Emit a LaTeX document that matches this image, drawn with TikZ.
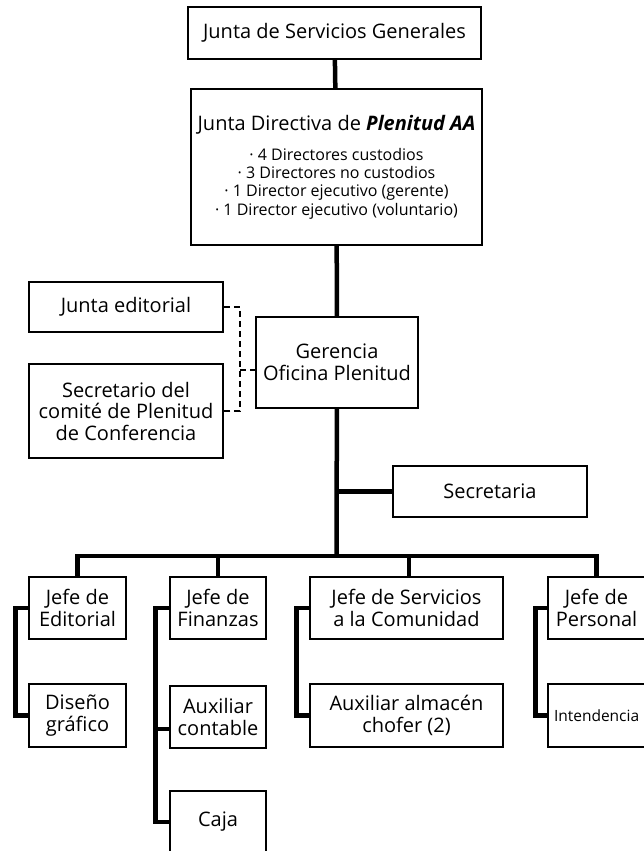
\documentclass[tikz,border=0pt]{standalone}
\usepackage{fontspec}
\setmainfont{Open Sans}
\usepackage{tikz}
\newcommand\jdlist{\fontsize{16}{18.3}\selectfont}

\begin{document}
\begin{tikzpicture}[x=1pt,y=-1pt,
	box/.style={draw, line width=1.5pt, align=center, inner sep=0pt, font=\fontsize{20}{21.5}\selectfont},
	link/.style={line width=4.5pt},
	dashlink/.style={line width=1.8pt, dash pattern=on 6pt off 4pt}]
	\useasboundingbox (0,0) rectangle (643,851);
	% top of the chart
	\node[box, minimum width=293pt, minimum height=52pt] (jsg) at (334.5,33) {Junta de Servicios Generales};
	\node[box, minimum width=291pt, minimum height=156pt, font=\fontsize{20}{18.3}\selectfont] (jd) at (336.5,167)
		{Junta Directiva de \textbf{\textit{Plenitud AA}}\\[12pt]
		 \jdlist · 4 Directores custodios\\
		 \jdlist · 3 Directores no custodios\\
		 \jdlist · 1 Director ejecutivo (gerente)\\
		 \jdlist · 1 Director ejecutivo (voluntario)};
	\node[box, minimum width=194pt, minimum height=50pt] (jed) at (126,307) {Junta editorial};
	\node[box, minimum width=194pt, minimum height=94pt] (sec) at (126,411) {Secretario del\\ comit\'e de Plenitud\\ de Conferencia};
	\node[box, minimum width=162pt, minimum height=91pt] (ger) at (337,362.5) {Gerencia\\ Oficina Plenitud};
	\node[box, minimum width=194pt, minimum height=51pt] (secr) at (490,491.5) {Secretaria};
	% jefes
	\node[box, minimum width=97pt, minimum height=62pt] (edit) at (77.5,608) {Jefe de\\ Editorial};
	\node[box, minimum width=97pt, minimum height=63pt] (dis) at (77.5,715.5) {Dise\~no\\ gr\'afico};
	\node[box, minimum width=96pt, minimum height=62pt] (fin) at (218,608) {Jefe de\\ Finanzas};
	\node[box, minimum width=96pt, minimum height=62pt] (aux) at (218,717) {Auxiliar\\ contable};
	\node[box, minimum width=96pt, minimum height=62pt] (caja) at (218,822) {Caja};
	\node[box, minimum width=193pt, minimum height=62pt] (serv) at (406.5,608) {Jefe de Servicios\\ a la Comunidad};
	\node[box, minimum width=193pt, minimum height=63pt] (alm) at (406.5,715.5) {Auxiliar almac\'en\\ chofer (2)};
	\node[box, minimum width=97pt, minimum height=62pt] (pers) at (596.5,608) {Jefe de\\ Personal};
	\node[box, minimum width=97pt, minimum height=63pt, font=\fontsize{15.5}{18}\selectfont,
		text width=85pt, align=left] (intd) at (596.5,715.5) {Intendencia};
	\coordinate (bus) at (336.5,556);
	\coordinate (brk) at (240,370);
	% lines
	\draw[link] (jsg) -- (jd);
	\draw[link] (jd) -- (ger);
	\draw[link] (ger) -- (bus);
	\draw[link] (secr.west) -- (secr.west -| bus);
	\draw[link] (edit.north) -- (edit.north |- bus) -| (pers.north);
	\draw[link] (fin.north) -- (fin.north |- bus);
	\draw[link] ([xshift=2.5pt]serv.north) -- ([xshift=2.5pt]serv.north |- bus);
	\draw[link] (edit.west) -- ++(-13,0) |- (dis.west);
	\draw[link] (fin.west) -- ++(-14,0) |- (caja.west);
	\draw[link] ([yshift=-12pt]aux.west) -- ++(-14,0);
	\draw[link] (serv.west) -- ++(-13,0) |- (alm.west);
	\draw[link] (pers.west) -- ++(-12,0) |- (intd.west);
	\draw[dashlink] (jed.east) -| (brk) |- (sec.east);
	\draw[dashlink] (brk) -- (brk -| ger.west);
%	\draw[help lines] (0,0) grid (643,851);
\end{tikzpicture}
\end{document}
